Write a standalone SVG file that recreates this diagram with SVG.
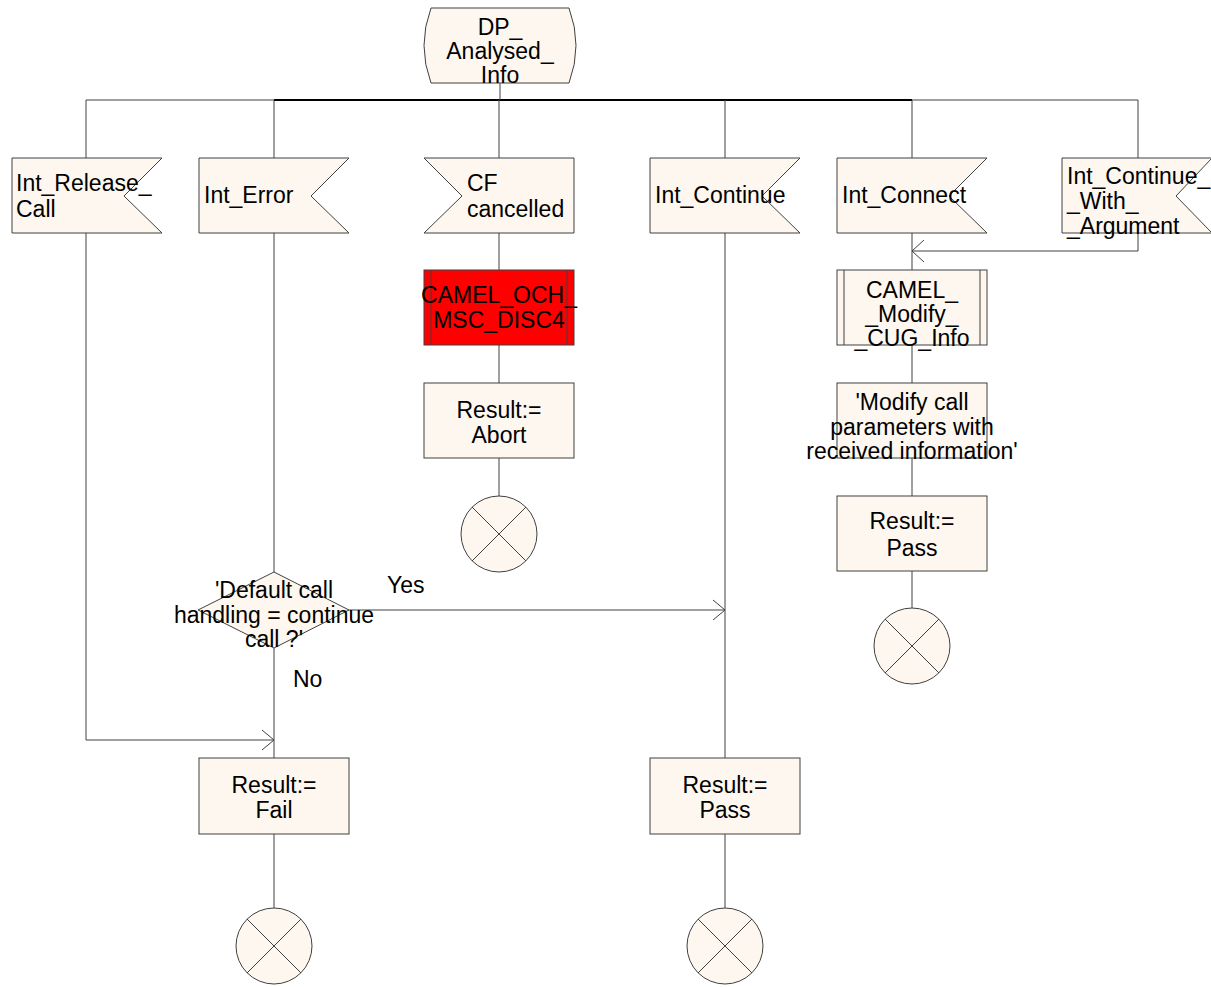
<svg xmlns="http://www.w3.org/2000/svg" width="1211" height="987" viewBox="0 0 1211 987">
<style>
.s{fill:#fdf7f0;stroke:#404040;stroke-width:1}
.r{fill:#ff0000;stroke:#404040;stroke-width:1}
.l{fill:none;stroke:#404040;stroke-width:1}
.k{fill:none;stroke:#000;stroke-width:2}
text{font-family:"Liberation Sans",Arial,sans-serif;font-size:23px;fill:#000}
.c{text-anchor:middle}
</style>
<defs>
<g id="term"><circle cx="0" cy="0" r="38" class="s"/><path d="M-27,-27L27,27M27,-27L-27,27" class="l"/></g>
</defs>
<g id="connectors">
<path class="l" d="M86,100H1138"/>
<path class="k" d="M274,100H912"/>
<path class="l" d="M500,83V100"/>
<path class="l" d="M86,100V158M274,100V158M499,100V158M725,100V158M912,100V158M1138,100V158"/>
<path class="l" d="M86,233V740H274"/>
<path class="l" d="M262,730L274,740L262,750"/>
<path class="l" d="M274,233V572"/>
<path class="l" d="M274,648V758"/>
<path class="l" d="M349,610H725"/>
<path class="l" d="M713,600L725,610L713,620"/>
<path class="l" d="M725,233V758"/>
<path class="l" d="M274,834V908M725,834V908"/>
<path class="l" d="M499,233V270M499,345V383M499,458V496"/>
<path class="l" d="M912,233V270M912,345V383M912,458V496M912,571V608"/>
<path class="l" d="M1138,233V251H912"/>
<path class="l" d="M924,240L912,251L924,262"/>
</g>
<g id="start">
<path class="s" d="M431,8H569Q583,45.5 569,83H431Q417,45.5 431,8Z"/>
<text class="c" x="500" y="35">DP_</text>
<text class="c" x="500" y="59">Analysed_</text>
<text class="c" x="500" y="83">Info</text>
</g>
<g id="int_release_call">
<path class="s" d="M12,158H162L124,196L162,233H12Z"/>
<text x="16" y="191">Int_Release_</text>
<text x="16" y="217">Call</text>
</g>
<g id="int_error">
<path class="s" d="M199,158H349L311,196L349,233H199Z"/>
<text x="204" y="203">Int_Error</text>
</g>
<g id="cf_cancelled">
<path class="s" d="M424,158H574V233H424L462,196Z"/>
<text x="467" y="191">CF</text>
<text x="467" y="217">cancelled</text>
</g>
<g id="int_continue">
<path class="s" d="M650,158H800L762,196L800,233H650Z"/>
<text x="655" y="203">Int_Continue</text>
</g>
<g id="int_connect">
<path class="s" d="M837,158H987L949,196L987,233H837Z"/>
<text x="842" y="203">Int_Connect</text>
</g>
<g id="int_continue_with_argument">
<path class="s" d="M1062,158H1212L1176,196L1212,233H1062Z"/>
<text x="1067" y="184">Int_Continue_</text>
<text x="1067" y="209">_With_</text>
<text x="1067" y="234">_Argument</text>
</g>
<g id="camel_och_msc_disc4">
<rect class="r" x="424" y="270" width="150" height="75"/>
<path class="l" d="M431,270V345M567,270V345"/>
<text class="c" x="499" y="303">CAMEL_OCH_</text>
<text class="c" x="499" y="328">MSC_DISC4</text>
</g>
<g id="result_abort">
<rect class="s" x="424" y="383" width="150" height="75"/>
<text class="c" x="499" y="418">Result:=</text>
<text class="c" x="499" y="443">Abort</text>
</g>
<g id="stop_abort"><use href="#term" x="499" y="534"/></g>
<g id="camel_modify_cug_info">
<rect class="s" x="837" y="270" width="150" height="75"/>
<path class="l" d="M844,270V345M980,270V345"/>
<text class="c" x="912" y="298">CAMEL_</text>
<text class="c" x="912" y="322">_Modify_</text>
<text class="c" x="912" y="346">_CUG_Info</text>
</g>
<g id="modify_call_params">
<rect class="s" x="837" y="383" width="150" height="75"/>
<text class="c" x="912" y="410">'Modify call</text>
<text class="c" x="912" y="435">parameters with</text>
<text class="c" x="912" y="459">received information'</text>
</g>
<g id="result_pass_right">
<rect class="s" x="837" y="496" width="150" height="75"/>
<text class="c" x="912" y="529">Result:=</text>
<text class="c" x="912" y="556">Pass</text>
</g>
<g id="stop_pass_right"><use href="#term" x="912" y="646"/></g>
<g id="decision">
<path class="s" d="M274,572L349,610L274,648L198,610Z"/>
<text class="c" x="274" y="598">'Default call</text>
<text class="c" x="274" y="623">handling = continue</text>
<text class="c" x="274" y="647">call ?'</text>
</g>
<g id="labels">
<text x="387" y="593">Yes</text>
<text x="293" y="687">No</text>
</g>
<g id="result_fail">
<rect class="s" x="199" y="758" width="150" height="76"/>
<text class="c" x="274" y="793">Result:=</text>
<text class="c" x="274" y="818">Fail</text>
</g>
<g id="stop_fail"><use href="#term" x="274" y="946"/></g>
<g id="result_pass_bottom">
<rect class="s" x="650" y="758" width="150" height="76"/>
<text class="c" x="725" y="793">Result:=</text>
<text class="c" x="725" y="818">Pass</text>
</g>
<g id="stop_pass_bottom"><use href="#term" x="725" y="946"/></g>
</svg>
